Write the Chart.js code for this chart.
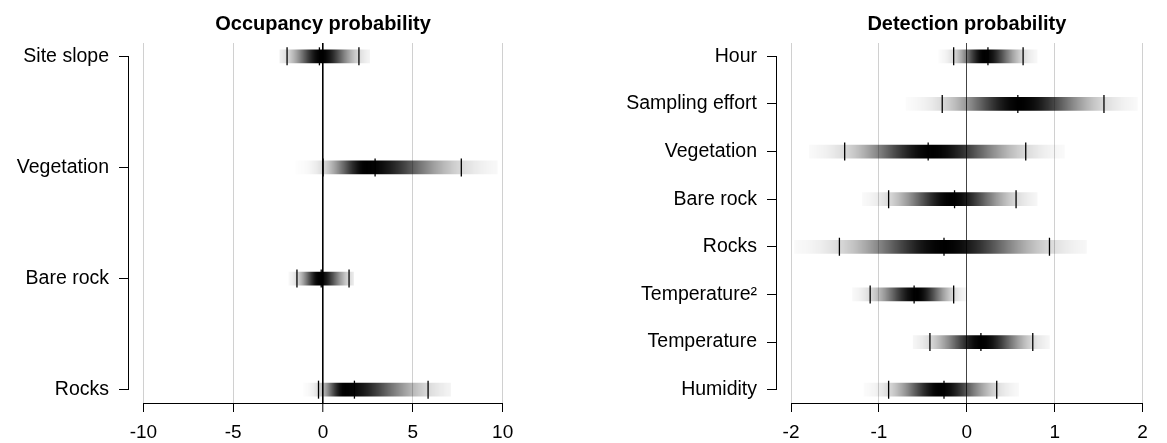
<!DOCTYPE html>
<html>
<head>
<meta charset="utf-8">
<script src="https://cdn.jsdelivr.net/npm/chart.js@4"></script>
<style>
body { margin: 0; background: #fff; }
#wrap { position: relative; width: 1167px; height: 443px; }
#occ { position: absolute; left: 0; top: 0; }
#det { position: absolute; left: 583px; top: 0; }
</style>
</head>
<body>
<div id="wrap">
<canvas id="occ" width="583" height="443" style="width:583px;height:443px"></canvas>
<canvas id="det" width="584" height="443" style="width:584px;height:443px"></canvas>
</div>
<script>
// Occupancy probability (left panel)
const occCategories = ['Site slope', 'Vegetation', 'Bare rock', 'Rocks'];
const occLower  = [-2.0, 0.0, -1.45, -0.25];
const occMedian = [-0.2, 2.9, -0.1, 1.75];
const occUpper  = [2.0, 7.7, 1.45, 5.85];
const occMode   = [-0.1, 2.4, -0.2, 1.2];
const occStripFrom = [-2.4, -1.5, -1.9, -1.1];
const occStripTo   = [2.6, 9.7, 1.7, 7.1];
const occTicks = [-10, -5, 0, 5, 10];

// Detection probability (right panel)
const detCategories = ['Hour', 'Sampling effort', 'Vegetation', 'Bare rock', 'Rocks', 'Temperature\u00b2', 'Temperature', 'Humidity'];
const detLower  = [-0.15, -0.28, -1.39, -0.89, -1.45, -1.10, -0.42, -0.89];
const detMedian = [0.24, 0.58, -0.44, -0.14, -0.26, -0.60, 0.16, -0.26];
const detUpper  = [0.64, 1.56, 0.67, 0.56, 0.94, -0.15, 0.75, 0.34];
const detMode   = [0.20, 0.60, -0.40, -0.18, -0.26, -0.57, 0.17, -0.30];
const detStripFrom = [-0.32, -0.69, -1.79, -1.19, -1.96, -1.30, -0.61, -1.17];
const detStripTo   = [0.80, 1.94, 1.11, 0.80, 1.36, 0.00, 0.94, 0.59];
const detTicks = [-2, -1, 0, 1, 2];

const FONT = '"Liberation Sans", Arial, sans-serif';

// R-style axis lines: x axis only from first to last tick, y spine from first to last category
const rAxes = {
  id: 'rAxes',
  afterDraw(chart, args, opts) {
    const { ctx, chartArea, scales: { x, y } } = chart;
    const xt = x.ticks, yt = y.ticks;
    ctx.save();
    ctx.strokeStyle = '#000';
    ctx.lineWidth = 1;
    ctx.beginPath();
    ctx.moveTo(x.getPixelForValue(xt[0].value), chartArea.bottom + 0.5);
    ctx.lineTo(x.getPixelForValue(xt[xt.length - 1].value), chartArea.bottom + 0.5);
    ctx.moveTo(chartArea.left - 0.5, y.getPixelForValue(yt[0].value));
    ctx.lineTo(chartArea.left - 0.5, y.getPixelForValue(yt[yt.length - 1].value));
    ctx.stroke();
    // title centred over the plot region
    ctx.fillStyle = '#000';
    ctx.font = 'bold 20px ' + FONT;
    ctx.textAlign = 'center';
    ctx.textBaseline = 'alphabetic';
    ctx.fillText(opts.text, (chartArea.left + chartArea.right) / 2, 29.5);
    ctx.restore();
  }
};

function makePanel(id, cfg) {
  const n = cfg.categories.length;
  const span = cfg.ticks[cfg.ticks.length - 1] - cfg.ticks[0];
  const xExt = span * 0.04;
  const yExt = (n - 1) * 0.04;

  const strip = cfg.categories.map((c, i) => ({ x: [cfg.from[i], cfg.to[i]], y: i }));
  const marks = [];
  cfg.categories.forEach((c, i) => {
    marks.push({ x: cfg.lower[i], y: i });
    marks.push({ x: cfg.median[i], y: i });
    marks.push({ x: cfg.upper[i], y: i });
  });

  return new Chart(document.getElementById(id), {
    type: 'bar',
    data: {
      datasets: [{
        type: 'scatter',
        data: marks,
        pointStyle: 'line',
        rotation: 90,
        radius: 9,
        hoverRadius: 9,
        borderColor: '#000',
        borderWidth: 1.3,
        xAxisID: 'x',
        yAxisID: 'y'
      }, {
        type: 'bar',
        indexAxis: 'y',
        data: strip,
        barThickness: 13,
        borderWidth: 0,
        xAxisID: 'x',
        yAxisID: 'y',
        backgroundColor: (c) => {
          const chart = c.chart;
          if (c.type !== 'data' || !chart.chartArea) return 'rgba(0,0,0,0)';
          const i = c.dataIndex;
          const xs = chart.scales.x;
          const a = cfg.from[i], b = cfg.to[i], m = cfg.mode[i];
          const g = chart.ctx.createLinearGradient(xs.getPixelForValue(a), 0, xs.getPixelForValue(b), 0);
          const steps = 60;
          for (let k = 0; k <= steps; k++) {
            const v = a + (b - a) * k / steps;
            const s = v < m ? (m - cfg.lower[i]) / 1.96 : (cfg.upper[i] - m) / 1.96;
            const z = (v - m) / s;
            g.addColorStop(k / steps, 'rgba(0,0,0,' + Math.exp(-0.5 * z * z).toFixed(3) + ')');
          }
          return g;
        }
      }]
    },
    options: {
      responsive: false,
      animation: false,
      layout: { padding: { left: 0, right: cfg.padRight, top: 43, bottom: 0 } },
      plugins: {
        legend: { display: false },
        tooltip: { enabled: false },
        title: { display: false },
        rAxes: { text: cfg.title }
      },
      scales: {
        x: {
          type: 'linear',
          position: 'bottom',
          offset: false,
          min: cfg.ticks[0] - xExt,
          max: cfg.ticks[cfg.ticks.length - 1] + xExt,
          afterBuildTicks: (s) => { s.ticks = cfg.ticks.map(v => ({ value: v })); },
          afterFit: (s) => { s.height = 40; },
          border: { display: false },
          grid: {
            offset: false,
            color: (c) => c.tick && c.tick.value === 0 ? cfg.zeroColor : '#d0d0d0',
            lineWidth: (c) => c.tick && c.tick.value === 0 ? cfg.zeroWidth : 1,
            drawTicks: true,
            tickLength: 9,
            tickColor: '#000',
            tickWidth: 1
          },
          ticks: {
            color: '#000',
            padding: 9,
            maxRotation: 0,
            font: { family: FONT, size: 19 },
            callback: (v) => String(v)
          }
        },
        y: {
          type: 'linear',
          position: 'left',
          reverse: true,
          offset: false,
          min: -yExt,
          max: n - 1 + yExt,
          afterBuildTicks: (s) => { s.ticks = cfg.categories.map((c, i) => ({ value: i })); },
          afterFit: (s) => { s.width = cfg.yWidth; },
          border: { display: false },
          grid: {
            offset: false,
            drawOnChartArea: false,
            drawTicks: true,
            tickLength: 10,
            tickColor: '#000',
            tickWidth: 1
          },
          ticks: {
            color: '#000',
            padding: 10,
            font: { family: FONT, size: 19.5 },
            callback: (v) => cfg.categories[v]
          }
        }
      }
    },
    plugins: [rAxes]
  });
}

makePanel('occ', {
  title: 'Occupancy probability',
  categories: occCategories,
  lower: occLower, median: occMedian, upper: occUpper, mode: occMode,
  from: occStripFrom, to: occStripTo,
  ticks: occTicks,
  yWidth: 129, padRight: 66,
  zeroColor: '#000', zeroWidth: 1.6
});

makePanel('det', {
  title: 'Detection probability',
  categories: detCategories,
  lower: detLower, median: detMedian, upper: detUpper, mode: detMode,
  from: detStripFrom, to: detStripTo,
  ticks: detTicks,
  yWidth: 194, padRight: 0,
  zeroColor: '#444', zeroWidth: 1
});
</script>
</body>
</html>
